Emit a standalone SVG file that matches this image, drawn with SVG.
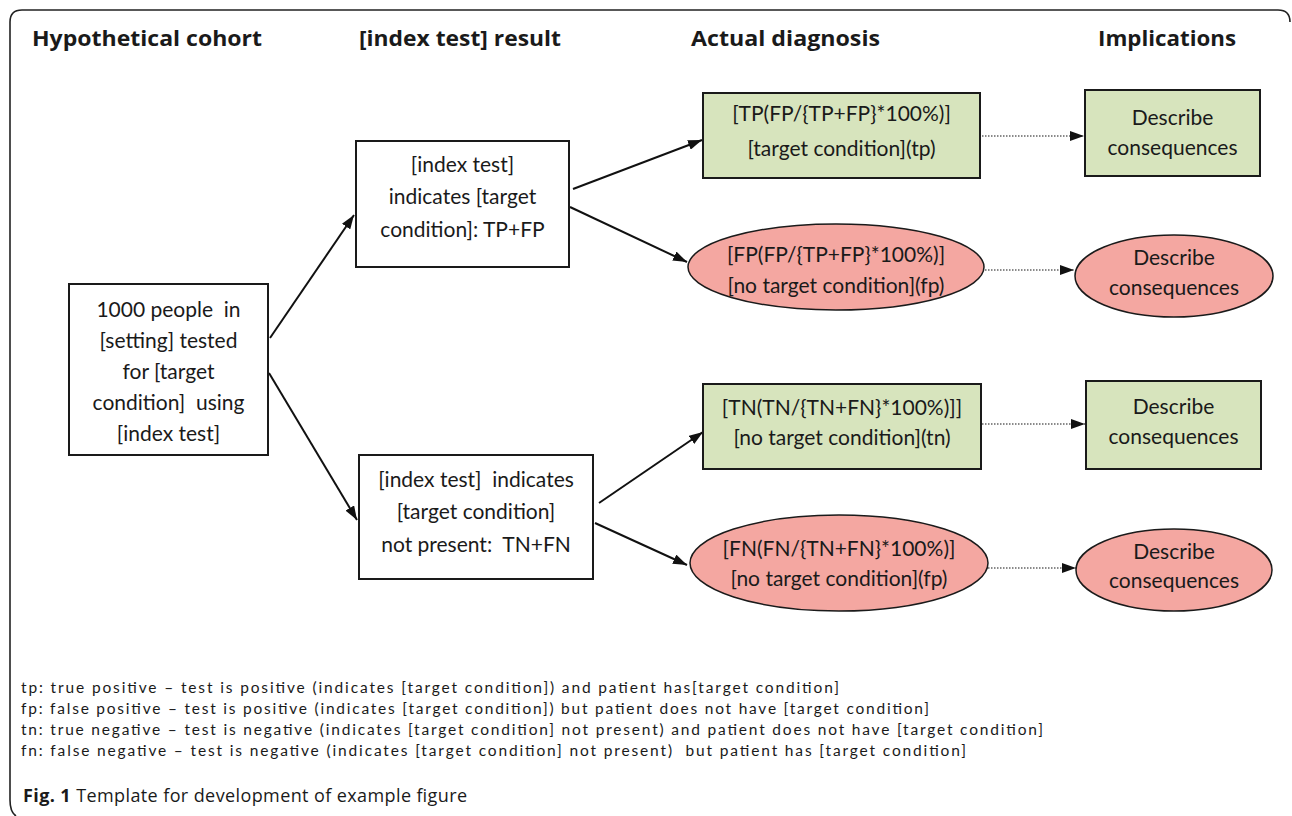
<svg xmlns="http://www.w3.org/2000/svg" width="1292" height="816" viewBox="0 0 1292 816">
<style>
.hdr{font-family:"Open Sans","Liberation Sans",sans-serif;font-weight:700;font-size:22px;fill:#1a1a1a}
.t{font-family:Lato,"Liberation Sans",sans-serif;font-size:21px;fill:#1a1a1a;text-anchor:middle;white-space:pre}
.leg{font-family:Lato,"Liberation Sans",sans-serif;font-size:15.5px;fill:#1a1a1a;white-space:pre}
.cap{font-family:"Open Sans","Liberation Sans",sans-serif;font-size:18px;fill:#1a1a1a}
.box{fill:#fff;stroke:#1a1a1a;stroke-width:2}
.g{fill:#d7e4bd;stroke:#1a1a1a;stroke-width:2}
.r{fill:#f4a7a1;stroke:#1a1a1a;stroke-width:1.5}
.c{stroke:#111;stroke-width:2;fill:none;marker-end:url(#ah)}
.d{stroke:#8a8a8a;stroke-width:2;stroke-dasharray:1.5 1.5;fill:none;marker-end:url(#ah)}
</style>
<defs>
<marker id="ah" viewBox="0 0 14 10" refX="14" refY="5" markerWidth="14" markerHeight="10" markerUnits="userSpaceOnUse" orient="auto">
<path d="M0,0 L14,5 L0,10 Z" fill="#111"/>
</marker>
</defs>
<rect width="1292" height="816" fill="#fff"/>
<path d="M16,816 Q10,812 10,800 L10,22 Q10,10 22,10 L1278,10 Q1290,10 1290,22" fill="none" stroke="#222" stroke-width="1.6"/>

<g id="headers">
<text class="hdr" x="32" y="46" textLength="230" lengthAdjust="spacingAndGlyphs">Hypothetical cohort</text>
<text class="hdr" x="359" y="46" textLength="202" lengthAdjust="spacingAndGlyphs">[index test] result</text>
<text class="hdr" x="691" y="46" textLength="189" lengthAdjust="spacingAndGlyphs">Actual diagnosis</text>
<text class="hdr" x="1098" y="46" textLength="138" lengthAdjust="spacingAndGlyphs">Implications</text>
</g>

<g id="connectors">
<line class="c" x1="270" y1="338" x2="354" y2="215"/>
<line class="c" x1="269" y1="373" x2="357" y2="520"/>
<line class="c" x1="573" y1="189" x2="702" y2="140"/>
<line class="c" x1="570" y1="207" x2="687" y2="262"/>
<line class="c" x1="599" y1="503" x2="703" y2="432"/>
<line class="c" x1="595" y1="523" x2="687" y2="565"/>
<line class="d" x1="982" y1="136" x2="1084" y2="136"/>
<line class="d" x1="985" y1="270" x2="1074" y2="270"/>
<line class="d" x1="982" y1="424" x2="1085" y2="424"/>
<line class="d" x1="988" y1="568" x2="1076" y2="568"/>
</g>

<g id="cohort">
<rect class="box" x="69" y="284" width="199" height="171"/>
<text class="t" x="168.5" y="317" xml:space="preserve">1000 people  in</text>
<text class="t" x="168.5" y="348">[setting] tested</text>
<text class="t" x="168.5" y="379">for [target</text>
<text class="t" x="168.5" y="410" xml:space="preserve">condition]  using</text>
<text class="t" x="168.5" y="441">[index test]</text>
</g>

<g id="index-positive">
<rect class="box" x="356" y="141" width="213" height="126"/>
<text class="t" x="462.5" y="172">[index test]</text>
<text class="t" x="462.5" y="204">indicates [target</text>
<text class="t" x="462.5" y="237">condition]: TP+FP</text>
</g>

<g id="index-negative">
<rect class="box" x="359" y="455" width="234" height="124"/>
<text class="t" x="476" y="487" xml:space="preserve">[index test]  indicates</text>
<text class="t" x="476" y="519">[target condition]</text>
<text class="t" x="476" y="552" xml:space="preserve">not present:  TN+FN</text>
</g>

<g id="tp">
<rect class="g" x="703" y="93" width="277" height="85"/>
<text class="t" x="841.5" y="121">[TP(FP/{TP+FP}*100%)]</text>
<text class="t" x="841.5" y="156">[target condition](tp)</text>
</g>

<g id="fp">
<ellipse class="r" cx="836" cy="267" rx="148" ry="43"/>
<text class="t" x="836" y="262">[FP(FP/{TP+FP}*100%)]</text>
<text class="t" x="836" y="293">[no target condition](fp)</text>
</g>

<g id="tn">
<rect class="g" x="703" y="384" width="278" height="85"/>
<text class="t" x="842" y="415">[TN(TN/{TN+FN}*100%)]]</text>
<text class="t" x="842" y="445">[no target condition](tn)</text>
</g>

<g id="fn">
<ellipse class="r" cx="839" cy="563" rx="149" ry="48"/>
<text class="t" x="839" y="556">[FN(FN/{TN+FN}*100%)]</text>
<text class="t" x="839" y="586">[no target condition](fp)</text>
</g>

<g id="impl-tp">
<rect class="g" x="1085" y="90" width="175" height="86"/>
<text class="t" x="1172.5" y="125">Describe</text>
<text class="t" x="1172.5" y="155">consequences</text>
</g>

<g id="impl-fp">
<ellipse class="r" cx="1174" cy="276" rx="99" ry="41"/>
<text class="t" x="1174" y="265">Describe</text>
<text class="t" x="1174" y="295">consequences</text>
</g>

<g id="impl-tn">
<rect class="g" x="1086" y="381" width="175" height="88"/>
<text class="t" x="1173.5" y="414">Describe</text>
<text class="t" x="1173.5" y="444">consequences</text>
</g>

<g id="impl-fn">
<ellipse class="r" cx="1174" cy="570" rx="98" ry="41"/>
<text class="t" x="1174" y="559">Describe</text>
<text class="t" x="1174" y="588">consequences</text>
</g>

<g id="legend">
<text class="leg" x="21" y="693" textLength="818" lengthAdjust="spacing">tp: true positive – test is positive (indicates [target condition]) and patient has[target condition]</text>
<text class="leg" x="21" y="714" textLength="908" lengthAdjust="spacing">fp: false positive – test is positive (indicates [target condition]) but patient does not have [target condition]</text>
<text class="leg" x="21" y="735" textLength="1022" lengthAdjust="spacing">tn: true negative – test is negative (indicates [target condition] not present) and patient does not have [target condition]</text>
<text class="leg" x="21" y="756" textLength="945" lengthAdjust="spacing">fn: false negative – test is negative (indicates [target condition] not present)  but patient has [target condition]</text>
</g>

<g id="caption">
<text class="cap" x="23" y="802" textLength="444" lengthAdjust="spacing"><tspan font-weight="700">Fig. 1</tspan> Template for development of example figure</text>
</g>
</svg>
